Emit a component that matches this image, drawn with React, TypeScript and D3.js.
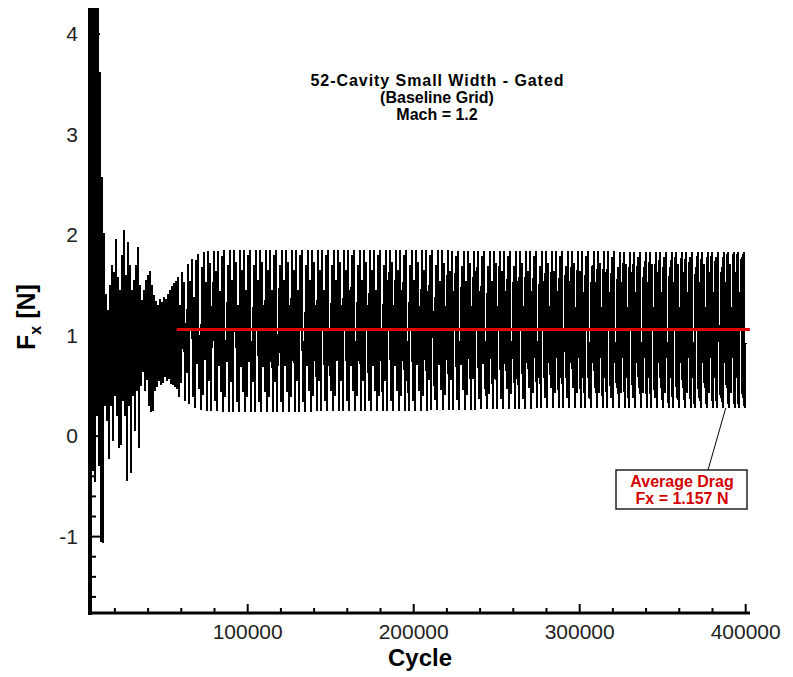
import React from "react";
import * as d3 from "d3";

// ---------- data ----------
const titleLines = ["52-Cavity Small Width - Gated", "(Baseline Grid)", "Mach = 1.2"];
const xMajorTicks = [100000, 200000, 300000, 400000];
const yMajorTicks = [-1, 0, 1, 2, 3, 4];
const xDomain = [5000, 402000];
const yDomain = [-1.76, 4.26];

// sampling of the force history (cycles)
const sampleStart = 5600;
const sampleStep = 602;
const sampleEnd = 400000;

// start-up transient, one value per sample
const earlyFx = [
  1.0, 4.5, -0.35, 4.5, -0.46, 4.5, 0.2, 4.4, -0.3, 3.62,
  -1.05, 2.58, -1.06, 2.02, 0.3, 1.41, 0.15, 1.25, -0.23, 1.5,
  0.3, 1.7, -0.05, 1.63, 0.4, 1.96, 0.2, 1.58, -0.12, 1.45,
  -0.09, 1.8, 0.35, 2.05, 0.2, 1.6, -0.45, 1.93, 0.3, 1.7,
  -0.37, 1.45, 0.4, 1.55, 0.05, 1.7, 0.45, 1.88, -0.12, 1.5,
  0.5, 1.35, 0.64, 1.45, 0.45, 1.55, 0.56, 1.6, 0.3, 1.64,
  0.24, 1.5, 0.25, 1.4, 0.45, 1.34, 0.49, 1.3, 0.55, 1.36,
  0.51, 1.33, 0.53, 1.38, 0.59, 1.36, 0.55, 1.41, 0.57, 1.45,
  0.52, 1.49, 0.51, 1.52, 0.49, 1.54, 0.47,
];

// envelope of the settled oscillation
const envCycle = [58000, 60400, 62800, 65200, 68200, 71300, 75500, 89300, 192000, 288000, 400000];
const envUpper = [1.58, 1.63, 1.68, 1.74, 1.79, 1.83, 1.84, 1.85, 1.85, 1.84, 1.83];
const envLower = [0.40, 0.37, 0.34, 0.31, 0.28, 0.26, 0.25, 0.24, 0.25, 0.28, 0.28];
// beat pattern: how far peaks fall short of the envelope (N)
const peakShortfall = [0, 0.3, 0, 0.12, 0.55, 0, 0.2, 0, 0.4, 0.05, 0, 0.9, 0.15];
const troughShortfall = [0, 0.15, 0.5, 0, 0.3, 0, 0.8, 0.1, 0, 0.45, 0.2];

const avgLineValue = 1.06;
const avgLineCycles = [57200, 402500];
const annotationLines = ["Average Drag", "Fx = 1.157 N"];
const annotationAnchor = [388000, 0.28];

// ---------- build series ----------
function buildSeries() {
  const upperAt = d3.scaleLinear().domain(envCycle).range(envUpper).clamp(true);
  const lowerAt = d3.scaleLinear().domain(envCycle).range(envLower).clamp(true);
  const early: [number, number][] = [];
  const settled: [number, number][] = [];
  let i = 0;
  for (let c = sampleStart; c <= sampleEnd; c += sampleStep, i++) {
    if (i < earlyFx.length) {
      early.push([c, earlyFx[i]]);
    } else {
      const k = Math.floor((i - earlyFx.length) / 2);
      if (i % 2 === 1) settled.push([c, upperAt(c) - peakShortfall[k % peakShortfall.length]]);
      else settled.push([c, lowerAt(c) + troughShortfall[k % troughShortfall.length]]);
    }
  }
  settled.unshift(early[early.length - 1]);
  return { early, settled };
}

export default function App() {
  const W = 793, H = 677;
  const x = d3.scaleLinear().domain(xDomain).range([90, 749]);
  const y = d3.scaleLinear().domain(yDomain).range([613, 8]);
  const { early, settled } = buildSeries();
  const line = d3.line<[number, number]>().x((d) => x(d[0])).y((d) => y(d[1]));
  const xMinor = d3.range(20000, 400001, 20000).filter((v) => xMajorTicks.indexOf(v) < 0);
  const yMinor = d3.range(-16, 43, 2).map((v) => v / 10).filter((v) => yMajorTicks.indexOf(v) < 0);
  const font = "'Liberation Sans', Arial, sans-serif";
  const ax = annotationAnchor;

  return (
    <svg width={W} height={H} style={{ position: "absolute", left: 0, top: 0, background: "#fff" }}>
      <rect x={0} y={0} width={W} height={H} fill="#fff" />
      <defs>
        <clipPath id="plot">
          <rect x={90} y={8} width={662} height={605} />
        </clipPath>
      </defs>
      <g clipPath="url(#plot)">
        <path d={line(early) || ""} fill="none" stroke="#000" strokeWidth={1.3} shapeRendering="crispEdges" />
        <path d={line(settled) || ""} fill="none" stroke="#000" strokeWidth={2} shapeRendering="crispEdges" />
      </g>
      {/* average line */}
      <line x1={x(avgLineCycles[0])} x2={x(avgLineCycles[1])} y1={y(avgLineValue)} y2={y(avgLineValue)} stroke="#e00000" strokeWidth={3} />
      {/* axes */}
      <line x1={90} x2={90} y1={8} y2={615} stroke="#000" strokeWidth={4} />
      <line x1={88} x2={750} y1={613} y2={613} stroke="#000" strokeWidth={3} />
      {yMajorTicks.map((v) => (
        <line key={"ym" + v} x1={90} x2={100} y1={y(v)} y2={y(v)} stroke="#000" strokeWidth={2} />
      ))}
      {yMinor.map((v) => (
        <line key={"yn" + v} x1={90} x2={96} y1={y(v)} y2={y(v)} stroke="#000" strokeWidth={2} />
      ))}
      {xMajorTicks.map((v) => (
        <line key={"xm" + v} x1={x(v)} x2={x(v)} y1={613} y2={604} stroke="#000" strokeWidth={2} />
      ))}
      {xMinor.map((v) => (
        <line key={"xn" + v} x1={x(v)} x2={x(v)} y1={613} y2={608} stroke="#000" strokeWidth={2} />
      ))}
      {yMajorTicks.map((v) => (
        <text key={"yl" + v} x={78} y={y(v) + 7} textAnchor="end" fontFamily={font} fontSize={21} fill="#222">
          {v}
        </text>
      ))}
      {xMajorTicks.map((v) => (
        <text key={"xl" + v} x={x(v)} y={639} textAnchor="middle" fontFamily={font} fontSize={21} fill="#222">
          {v}
        </text>
      ))}
      {/* axis titles */}
      <text x={420} y={666} textAnchor="middle" fontFamily={font} fontWeight="bold" fontSize={24} fill="#000">
        Cycle
      </text>
      <text transform="translate(35,317) rotate(-90)" textAnchor="middle" fontFamily={font} fontWeight="bold" fontSize={25} fill="#000">
        F<tspan fontSize={16} dy={6}>x</tspan>
        <tspan dy={-6}> [N]</tspan>
      </text>
      {/* title */}
      {titleLines.map((t, i) => (
        <text key={t} x={437} y={86 + i * 17} textAnchor="middle" fontFamily={font} fontWeight="bold" fontSize={16}
          fill="#000" textLength={i === 0 ? 253 : undefined} lengthAdjust="spacing">
          {t}
        </text>
      ))}
      {/* annotation */}
      <line x1={x(ax[0])} y1={y(ax[1])} x2={708} y2={470} stroke="#000" strokeWidth={1} />
      <rect x={616} y={470} width={131} height={39} fill="#fff" stroke="#222" strokeWidth={1.5} />
      {annotationLines.map((t, i) => (
        <text key={t} x={682} y={487 + i * 17} textAnchor="middle" fontFamily={font} fontWeight="bold" fontSize={16} fill="#d40000">
          {t}
        </text>
      ))}
    </svg>
  );
}
